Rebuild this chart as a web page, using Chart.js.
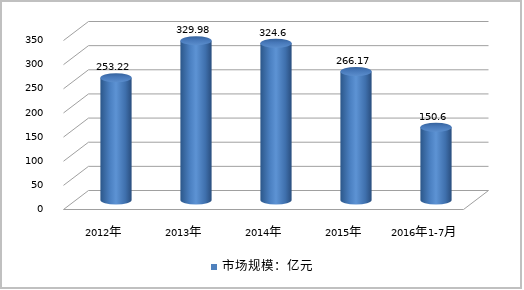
<!DOCTYPE html>
<html>
<head>
<meta charset="utf-8">
<script src="https://cdn.jsdelivr.net/npm/chart.js@4/dist/chart.umd.min.js"></script>
<style>
  @font-face { font-family: 'Mix'; src: local('DejaVu Sans'), local('DejaVuSans'); unicode-range: U+0000-024F; }
  @font-face { font-family: 'Mix'; src: local('Noto Sans CJK SC'), local('NotoSansCJKsc-Regular'), local('Noto Sans CJK SC Regular'); unicode-range: U+3000-9FFF, U+FF00-FFEF; size-adjust: 125%; }
  html, body { margin: 0; padding: 0; background: #fff; }
</style>
</head>
<body>
<canvas id="chart" width="524" height="290"></canvas>
<script>
// data
const categories = ['2012年', '2013年', '2014年', '2015年', '2016年1-7月'];
const marketSize = [253.22, 329.98, 324.6, 266.17, 150.6];
const seriesName = '市场规模：亿元';
const yTicks = [0, 50, 100, 150, 200, 250, 300, 350];

// fake 3D depth: offset of back wall / front edge from the bar plane
const DX = 12.5, DY = 9.5;

function drawCylinder(ctx, cx, top, base, rx, ry) {
    const l = cx - rx, r = cx + rx;
    const g = ctx.createLinearGradient(l, 0, r, 0);
    g.addColorStop(0, '#2c578a');
    g.addColorStop(0.3, '#4a7fc0');
    g.addColorStop(0.5, '#5d93d4');
    g.addColorStop(0.8, '#3f70ad');
    g.addColorStop(1, '#2a4e7e');
    ctx.fillStyle = g;
    ctx.beginPath();
    ctx.moveTo(l, top);
    ctx.lineTo(l, base);
    ctx.ellipse(cx, base, rx, ry, 0, Math.PI, 0, true);
    ctx.lineTo(r, top);
    ctx.closePath();
    ctx.fill();

    // top cap
    const c = ctx.createLinearGradient(0, top - ry, 0, top + ry);
    c.addColorStop(0, '#35629c');
    c.addColorStop(0.4, '#4677b8');
    c.addColorStop(1, '#5b8ecd');
    ctx.fillStyle = c;
    ctx.beginPath();
    ctx.ellipse(cx, top, rx, ry, 0, 0, Math.PI * 2);
    ctx.fill();
}

const frame3d = {
    id: 'frame3d',
    beforeDraw(chart) {
        const ctx = chart.ctx;
        ctx.save();
        ctx.fillStyle = '#fff';
        ctx.fillRect(0, 0, chart.width, chart.height);
        ctx.strokeStyle = '#c0c0c0';
        ctx.lineWidth = 2;
        ctx.strokeRect(1, 1, 520, 287);
        ctx.restore();
    },
    beforeDatasetsDraw(chart) {
        const { ctx, chartArea: a, scales: { y } } = chart;
        ctx.save();
        // walls and floor
        ctx.strokeStyle = '#a0a0a0';
        ctx.lineWidth = 1;
        ctx.beginPath();
        y.ticks.forEach(t => {
            const py = y.getPixelForValue(t.value);
            ctx.moveTo(a.left - DX, py + DY);
            ctx.lineTo(a.left + DX, py - DY);
            ctx.lineTo(a.right + DX, py - DY);
        });
        const p0 = y.getPixelForValue(0);
        ctx.moveTo(a.left - DX, p0 + DY);
        ctx.lineTo(a.right - DX, p0 + DY);
        ctx.lineTo(a.right + DX, p0 - DY);
        ctx.stroke();

        // cylinders + value labels
        const meta = chart.getDatasetMeta(0);
        ctx.font = '10px Mix';
        ctx.textAlign = 'center';
        ctx.textBaseline = 'middle';
        meta.data.forEach((bar, i) => {
            const p = bar.getProps(['x', 'y', 'base', 'width'], true);
            drawCylinder(ctx, p.x, p.y, p.base, p.width / 2, 4.5);
            ctx.fillStyle = '#000';
            ctx.fillText(String(marketSize[i]), p.x - 4, p.y - 10);
        });
        ctx.restore();
        return false;
    }
};

document.fonts.load('10px Mix', '年').finally(() => {
    new Chart(document.getElementById('chart'), {
        type: 'bar',
        data: {
            labels: categories,
            datasets: [{
                label: seriesName,
                data: marketSize,
                backgroundColor: '#4f81bd',
                categoryPercentage: 1,
                barPercentage: 0.39
            }]
        },
        options: {
            responsive: false,
            animation: false,
            layout: { padding: { top: 29, right: 0, bottom: 8, left: 0 } },
            plugins: {
                legend: {
                    position: 'bottom',
                    labels: {
                        boxWidth: 6,
                        boxHeight: 6,
                        padding: 10,
                        color: '#000',
                        font: { family: 'Mix', size: 10 }
                    }
                },
                tooltip: { enabled: false }
            },
            scales: {
                x: {
                    grid: { display: false },
                    border: { display: false },
                    ticks: {
                        color: '#000',
                        font: { family: 'Mix', size: 10 },
                        padding: 19,
                        labelOffset: -DX,
                        maxRotation: 0
                    },
                    afterFit(s) { s.height = 52; }
                },
                y: {
                    min: yTicks[0],
                    max: yTicks[yTicks.length - 1],
                    grid: { display: false },
                    border: { display: false },
                    ticks: {
                        stepSize: yTicks[1] - yTicks[0],
                        color: '#000',
                        font: { family: 'Mix', size: 10 },
                        padding: 25,
                        labelOffset: DY
                    },
                    afterFit(s) { s.width = 76; }
                },
                // empty right-hand axis, only reserves the space right of the plot
                yRight: {
                    position: 'right',
                    grid: { display: false },
                    border: { display: false },
                    ticks: { display: false },
                    afterFit(s) { s.width = 48; }
                }
            }
        },
        plugins: [frame3d]
    });
});
</script>
</body>
</html>
